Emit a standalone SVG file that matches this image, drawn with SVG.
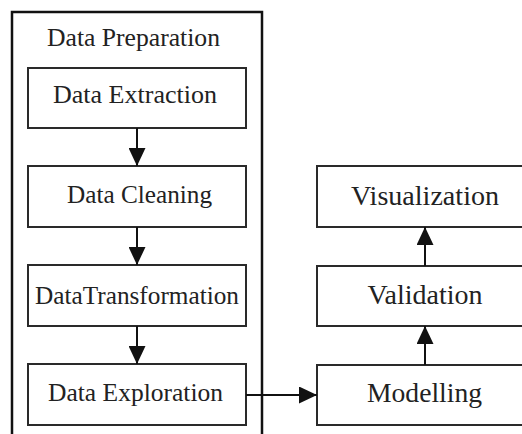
<svg xmlns="http://www.w3.org/2000/svg" width="522" height="434" viewBox="0 0 522 434">
<defs>
<style>
.box{fill:#fff;stroke:#2a2a2a;stroke-width:2}
.frame{fill:none;stroke:#111;stroke-width:2.5}
.lbl{font-family:"Liberation Serif","Times New Roman",serif;fill:#222;text-anchor:middle}
.l{font-size:24.5px}
.r{font-size:27px}
.conn{fill:none;stroke:#111;stroke-width:2}
</style>
<marker id="ah" viewBox="0 0 18 17" refX="18" refY="8.5" markerWidth="18" markerHeight="17" markerUnits="userSpaceOnUse" orient="auto">
<path d="M0,0 L18,8.5 L0,17 Z" fill="#111"/>
</marker>
</defs>
<rect width="522" height="434" fill="#fff"/>
<g id="data-preparation">
<path class="frame" d="M12,434 V12 H262 V434"/>
<text class="lbl l" x="133.5" y="46" textLength="173" lengthAdjust="spacingAndGlyphs">Data Preparation</text>
</g>
<g id="data-extraction">
<rect class="box" x="28" y="68" width="218" height="60"/>
<text class="lbl l" x="135" y="103" textLength="164" lengthAdjust="spacingAndGlyphs">Data Extraction</text>
</g>
<g id="data-cleaning">
<rect class="box" x="28" y="166" width="218" height="61"/>
<text class="lbl l" x="139.5" y="203" textLength="145" lengthAdjust="spacingAndGlyphs">Data Cleaning</text>
</g>
<g id="data-transformation">
<rect class="box" x="28" y="265" width="218" height="61"/>
<text class="lbl l" x="137" y="304" textLength="204" lengthAdjust="spacingAndGlyphs">DataTransformation</text>
</g>
<g id="data-exploration">
<rect class="box" x="28" y="364" width="218" height="61"/>
<text class="lbl l" x="135.5" y="401" textLength="175" lengthAdjust="spacingAndGlyphs">Data Exploration</text>
</g>
<g id="visualization">
<rect class="box" x="317" y="166" width="215" height="61"/>
<text class="lbl r" x="425" y="205" textLength="148" lengthAdjust="spacingAndGlyphs">Visualization</text>
</g>
<g id="validation">
<rect class="box" x="317" y="266" width="215" height="60"/>
<text class="lbl r" x="425" y="304" textLength="115" lengthAdjust="spacingAndGlyphs">Validation</text>
</g>
<g id="modelling">
<rect class="box" x="317" y="365" width="215" height="60"/>
<text class="lbl r" x="424.5" y="402" textLength="115" lengthAdjust="spacingAndGlyphs">Modelling</text>
</g>
<g id="connectors">
<line class="conn" x1="137" y1="128" x2="137" y2="166" marker-end="url(#ah)"/>
<line class="conn" x1="137" y1="227" x2="137" y2="265" marker-end="url(#ah)"/>
<line class="conn" x1="137" y1="326" x2="137" y2="364" marker-end="url(#ah)"/>
<line class="conn" x1="246" y1="395" x2="317" y2="395" marker-end="url(#ah)"/>
<line class="conn" x1="425" y1="365" x2="425" y2="326" marker-end="url(#ah)"/>
<line class="conn" x1="425" y1="266" x2="425" y2="227" marker-end="url(#ah)"/>
</g>
</svg>
